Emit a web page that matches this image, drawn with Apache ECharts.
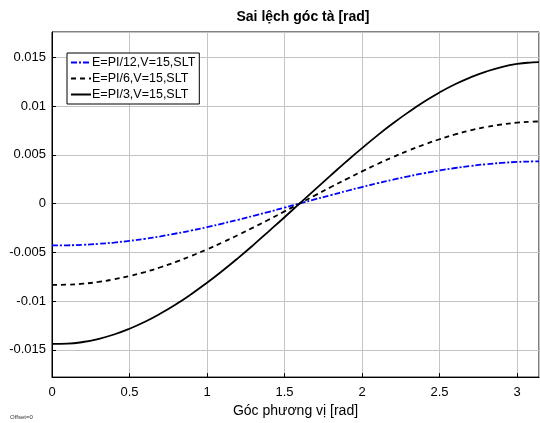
<!DOCTYPE html>
<html>
<head>
<meta charset="utf-8">
<script src="https://cdn.jsdelivr.net/npm/echarts@6/dist/echarts.min.js"></script>
<style>html,body{margin:0;padding:0;background:#fff}#c{width:540px;height:423px}</style>
</head>
<body>
<div id="c"></div>
<script>
var xValues = [0,0.1,0.2,0.3,0.4,0.5,0.6,0.7,0.8,0.9,1.0,1.1,1.2,1.3,1.4,1.5,1.6,1.7,1.8,1.9,2.0,2.1,2.2,2.3,2.4,2.5,2.6,2.7,2.8,2.9,3.0,3.1,3.1416];
var seriesNames = ["E=PI/12,V=15,SLT","E=PI/6,V=15,SLT","E=PI/3,V=15,SLT"];
var pi12 = [-0.00429,-0.00428,-0.00423,-0.00413,-0.00400,-0.00382,-0.00361,-0.00336,-0.00307,-0.00276,-0.00242,-0.00205,-0.00166,-0.00126,-0.00084,-0.00041,0.00002,0.00045,0.00087,0.00129,0.00170,0.00209,0.00245,0.00280,0.00311,0.00340,0.00365,0.00386,0.00404,0.00417,0.00427,0.00432,0.00433];
var pi6 = [-0.00834,-0.00832,-0.00822,-0.00804,-0.00777,-0.00743,-0.00702,-0.00653,-0.00598,-0.00536,-0.00470,-0.00398,-0.00323,-0.00244,-0.00163,-0.00080,0.00003,0.00087,0.00170,0.00251,0.00330,0.00406,0.00477,0.00544,0.00605,0.00660,0.00709,0.00751,0.00785,0.00811,0.00830,0.00840,0.00842];
var pi3 = [-0.01440,-0.01437,-0.01420,-0.01388,-0.01343,-0.01284,-0.01212,-0.01128,-0.01033,-0.00927,-0.00812,-0.00689,-0.00559,-0.00423,-0.00282,-0.00140,0.00005,0.00149,0.00292,0.00433,0.00569,0.00700,0.00823,0.00938,0.01044,0.01140,0.01224,0.01295,0.01354,0.01400,0.01432,0.01449,0.01452];
var titleText = "Sai lệch góc tà [rad]";
var xAxisName = "Góc phương vị [rad]";

function pairs(ys){ return xValues.map(function(x,i){return [x, ys[i]];}); }
var font = "'Liberation Sans', Arial, sans-serif";
var chart = echarts.init(document.getElementById('c'), null, {renderer:'canvas'});
chart.setOption({
  animation:false,
  backgroundColor:'#fff',
  title:{text:titleText,left:298,top:5,textAlign:'center',textStyle:{fontFamily:font,fontSize:14,fontWeight:'bold',color:'#000'}},
  grid:{left:52,right:1,top:32,bottom:42,show:true,borderColor:'#000',borderWidth:1,backgroundColor:'transparent'},
  legend:{
    orient:'vertical',left:67,top:53,
    backgroundColor:'#fff',borderColor:'#000',borderWidth:1,
    padding:[3,4,3,3],itemGap:3,itemWidth:20,itemHeight:12,
    itemStyle:{opacity:0},
    textStyle:{fontFamily:font,fontSize:12.5,color:'#000',padding:[0,0,0,-4]},
    data:seriesNames
  },
  xAxis:{
    type:'value',min:0,max:3.1416,splitNumber:6,minInterval:0.5,maxInterval:0.5,
    name:xAxisName,nameLocation:'middle',nameGap:22,
    nameTextStyle:{fontFamily:font,fontSize:14,color:'#000'},
    axisLine:{show:true,onZero:false,lineStyle:{color:'#000'}},
    axisTick:{show:true,inside:true,length:4,lineStyle:{color:'#000'}},
    axisLabel:{fontFamily:font,fontSize:13,color:'#000',margin:9,showMaxLabel:false,formatter:function(v){return String(+v.toFixed(3));}},
    splitLine:{show:true,lineStyle:{color:'#c4c4c4',width:1}}
  },
  yAxis:{
    type:'value',min:-0.0178,max:0.0176,splitNumber:7,minInterval:0.005,maxInterval:0.005,
    axisLine:{show:true,onZero:false,lineStyle:{color:'#000'}},
    axisTick:{show:true,inside:true,length:4,lineStyle:{color:'#000'}},
    axisLabel:{fontFamily:font,fontSize:13,color:'#000',margin:6,showMinLabel:false,showMaxLabel:false,formatter:function(v){return String(+v.toFixed(4));}},
    splitLine:{show:true,lineStyle:{color:'#c4c4c4',width:1}}
  },
  series:[
    {name:seriesNames[0],type:'line',showSymbol:false,symbol:'none',smooth:true,data:pairs(pi12),lineStyle:{color:'#0000ff',width:1.8,type:[6,2,2,2]},itemStyle:{color:'#0000ff'}},
    {name:seriesNames[1],type:'line',showSymbol:false,symbol:'none',smooth:true,data:pairs(pi6),lineStyle:{color:'#000',width:1.8,type:[5,4]},itemStyle:{color:'#000'}},
    {name:seriesNames[2],type:'line',showSymbol:false,symbol:'none',smooth:true,data:pairs(pi3),lineStyle:{color:'#000',width:1.8,type:'solid'},itemStyle:{color:'#000'}}
  ],
  graphic:[{type:'text',left:10,top:414,style:{text:'Offset=0',fontSize:6,fontFamily:font,fill:'#333'}}]
});
</script>
</body>
</html>
